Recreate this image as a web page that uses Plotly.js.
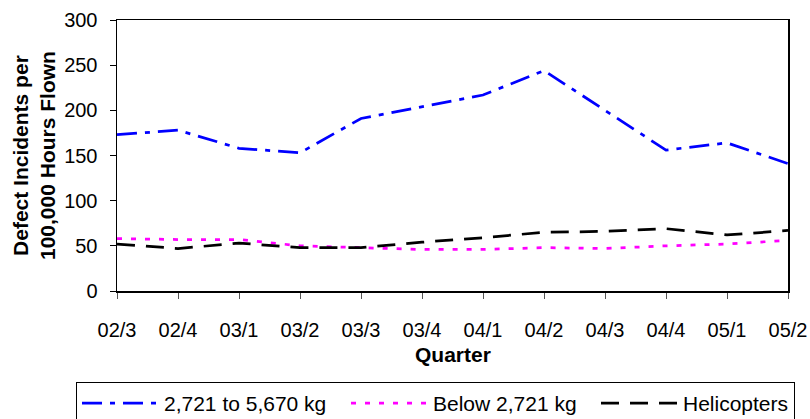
<!DOCTYPE html>
<html>
<head>
<meta charset="utf-8">
<script src="https://cdn.plot.ly/plotly-3.0.1.min.js"></script>
<style>
  html, body { margin: 0; padding: 0; background: #ffffff; }
  #chart { width: 810px; height: 419px; }
</style>
</head>
<body>
<div id="chart"></div>
<script>
// Quarterly defect incident rates (per 100,000 hours flown)
const quarters = ['02/3', '02/4', '03/1', '03/2', '03/3', '03/4', '04/1', '04/2', '04/3', '04/4', '05/1', '05/2'];
const mediumAircraft = [173, 178, 158, 153, 191, 204, 217, 244, 200, 156, 164, 141];
const lightAircraft = [58, 57, 57, 50, 48, 46, 46, 48, 47, 50, 52, 56];
const helicopters = [52, 47, 53, 48, 48, 54, 59, 65, 66, 69, 62, 67];
const seriesNames = ['2,721 to 5,670 kg', 'Below 2,721 kg', 'Helicopters'];
const yTicks = [0, 50, 100, 150, 200, 250, 300];

const FONT = 'Arial, "Liberation Sans", sans-serif';

const traces = [
  {
    x: quarters, y: mediumAircraft, name: seriesNames[0],
    type: 'scatter', mode: 'lines',
    legendwidth: 177,
    line: { color: '#0000FF', width: 2.75, dash: '20px,8px,5px,8px' }
  },
  {
    x: quarters, y: lightAircraft, name: seriesNames[1],
    type: 'scatter', mode: 'lines',
    legendwidth: 158,
    line: { color: '#FF00FF', width: 2.75, dash: '5px,9px' }
  },
  {
    x: quarters, y: helicopters, name: seriesNames[2],
    type: 'scatter', mode: 'lines',
    line: { color: '#000000', width: 2.75, dash: '18px,11px' }
  }
];

const layout = {
  width: 810,
  height: 419,
  // fixed plot area; the legend sits in the bottom margin without resizing it
  margin: { l: 117, r: 22, t: 20, b: 128, autoexpand: false },
  paper_bgcolor: '#ffffff',
  plot_bgcolor: '#ffffff',
  font: { family: FONT, size: 20, color: '#000000' },
  showlegend: true,
  xaxis: {
    type: 'category',
    range: [0, quarters.length - 1],
    tickvals: quarters,
    ticktext: quarters,
    automargin: false,
    showgrid: false,
    zeroline: false,
    showline: true,
    linecolor: '#000000',
    linewidth: 1.5,
    mirror: true,
    ticks: 'outside',
    ticklen: 6,
    tickwidth: 1,
    tickcolor: '#555555',
    ticklabelstandoff: 14,
    tickfont: { family: FONT, size: 20, color: '#000000' }
  },
  yaxis: {
    range: [0, 300],
    tickvals: yTicks,
    automargin: false,
    showgrid: false,
    zeroline: false,
    showline: true,
    linecolor: '#000000',
    linewidth: 1.5,
    mirror: true,
    ticks: 'outside',
    ticklen: 6,
    tickwidth: 1,
    tickcolor: '#000000',
    ticklabelstandoff: 8,
    tickfont: { family: FONT, size: 20, color: '#000000' }
  },
  annotations: [
    {
      text: '<b>Defect Incidents per<br>100,000 Hours Flown</b>',
      xref: 'paper', yref: 'paper',
      x: (33.5 - 117) / 671, y: 0.5,
      xanchor: 'center', yanchor: 'middle',
      textangle: -90,
      showarrow: false,
      font: { family: FONT, size: 21, color: '#000000' }
    },
    {
      text: '<b>Quarter</b>',
      xref: 'paper', yref: 'paper',
      x: 0.5, y: (291 - 354) / 271,
      xanchor: 'center', yanchor: 'middle',
      showarrow: false,
      font: { family: FONT, size: 21, color: '#000000' }
    }
  ],
  legend: {
    orientation: 'h',
    x: (76 - 117) / 671,
    xanchor: 'left',
    y: (291 - 382) / 271,
    yanchor: 'top',
    bordercolor: '#000000',
    borderwidth: 1,
    bgcolor: '#ffffff',
    itemwidth: 77,
    font: { family: FONT, size: 21, color: '#000000' }
  }
};

Plotly.newPlot('chart', traces, layout, { staticPlot: true, displayModeBar: false });
</script>
</body>
</html>
